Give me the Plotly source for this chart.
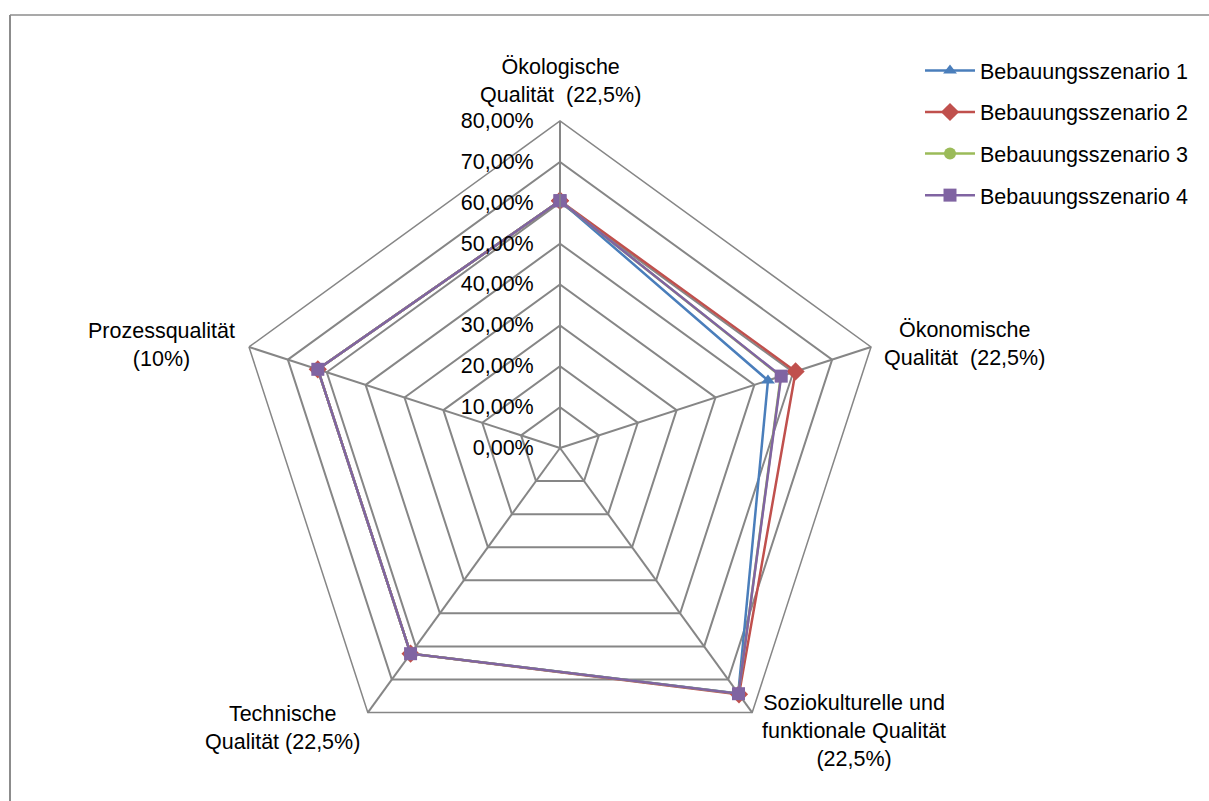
import math
import plotly.graph_objects as go

# Criteria (angular categories), clockwise starting at the top
criteria = [
    "Ökologische<br>Qualität  (22,5%)",
    "Ökonomische<br>Qualität  (22,5%)",
    "Soziokulturelle und<br>funktionale Qualität<br>(22,5%)",
    "Technische<br>Qualität (22,5%)",
    "Prozessqualität<br>(10%)",
]

# Scores per building scenario (fractions of 1)
szenario_1 = [0.605, 0.535, 0.742, 0.622, 0.623]
szenario_2 = [0.605, 0.606, 0.745, 0.622, 0.623]
szenario_3 = [0.605, 0.568, 0.743, 0.622, 0.623]
szenario_4 = [0.605, 0.569, 0.743, 0.622, 0.623]

series_names = ["Bebauungsszenario 1", "Bebauungsszenario 2",
                "Bebauungsszenario 3", "Bebauungsszenario 4"]
series_values = [szenario_1, szenario_2, szenario_3, szenario_4]
series_colors = ["#4A7EBB", "#C0504D", "#9BBB59", "#8064A2"]
series_symbols = ["triangle-up", "diamond", "circle", "square"]
series_sizes = [12, 14, 12, 13]

radial_ticks = [0, 0.1, 0.2, 0.3, 0.4, 0.5, 0.6, 0.7, 0.8]
R_MAX = 0.8

W, H = 1209, 801
GRID = "#868686"
FONT_SIZE = 21.5

# Polar area in pixels: centre and outer radius
CX, CY, RAD = 560, 448, 327

# Category label placement: (dx, dy) offset from the outer vertex, anchors
label_layout = [
    (0, -12, "center", "bottom"),
    (11, -3, "left", "middle"),
    (8, -24, "left", "top"),
    (-6, -13, "right", "top"),
    (-12, -2, "right", "middle"),
]

fig = go.Figure()
for i, (name, vals) in enumerate(zip(series_names, series_values)):
    fig.add_trace(go.Scatterpolar(
        r=vals + vals[:1],
        theta=criteria + criteria[:1],
        mode="lines+markers",
        name=name,
        legendgroup=f"g{i}",
        line=dict(color=series_colors[i], width=2.5),
        marker=dict(symbol=series_symbols[i], size=series_sizes[i],
                    color=series_colors[i]),
    ))

# Category labels next to the outer polygon vertices
annotations = []
n = len(criteria)
for k, (label, (dx, dy, xa, ya)) in enumerate(zip(criteria, label_layout)):
    ang = math.radians(90 - 360 * k / n)
    vx = CX + RAD * math.cos(ang)
    vy = CY - RAD * math.sin(ang)
    annotations.append(dict(
        text=label, xref="paper", yref="paper",
        x=(vx + dx) / W, y=1 - (vy + dy) / H,
        xanchor=xa, yanchor=ya, align="center", showarrow=False,
        font=dict(size=FONT_SIZE, color="black"),
    ))

fig.update_layout(
    width=W, height=H,
    margin=dict(l=0, r=0, t=0, b=0),
    paper_bgcolor="white",
    plot_bgcolor="white",
    separators=",.",
    font=dict(family="Liberation Sans, Arial, sans-serif", size=FONT_SIZE, color="black"),
    polar=dict(
        domain=dict(x=[(CX - RAD) / W, (CX + RAD) / W],
                    y=[1 - (CY + RAD) / H, 1 - (CY - RAD) / H]),
        bgcolor="white",
        gridshape="linear",
        radialaxis=dict(
            range=[0, R_MAX],
            tickvals=radial_ticks,
            tickformat=".2%",
            angle=90,
            side="counterclockwise",
            tickangle=90,
            showline=True,
            linecolor=GRID,
            linewidth=1.5,
            gridcolor=GRID,
            gridwidth=1.5,
            ticks="outside",
            ticklen=18,
            tickcolor="rgba(0,0,0,0)",
            tickfont=dict(size=FONT_SIZE, color="black"),
        ),
        angularaxis=dict(
            direction="clockwise",
            rotation=90,
            showline=True,
            linecolor=GRID,
            linewidth=1.5,
            gridcolor=GRID,
            gridwidth=1.5,
            ticks="",
            showticklabels=False,
        ),
    ),
    annotations=annotations,
    legend=dict(
        x=920 / W, y=1 - 50 / H, xanchor="left", yanchor="top",
        font=dict(size=FONT_SIZE, color="black"),
        tracegroupgap=10.6,
        itemwidth=50,
        bgcolor="rgba(0,0,0,0)",
    ),
    shapes=[
        dict(type="line", xref="paper", yref="paper",
             x0=10 / W, x1=1.01, y0=1 - 15 / H, y1=1 - 15 / H,
             line=dict(color="#8C8C8C", width=1.5)),
        dict(type="line", xref="paper", yref="paper",
             x0=10 / W, x1=10 / W, y0=1 - 15 / H, y1=-0.01,
             line=dict(color="#8C8C8C", width=2)),
    ],
)

fig.write_html("out.html")
